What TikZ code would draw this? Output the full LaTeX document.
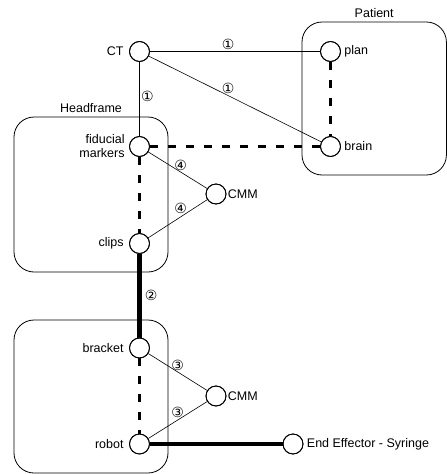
\documentclass[tikz,border=0pt]{standalone}
\usepackage{fontspec}
\setmainfont{Liberation Sans}
\newfontfamily\circfont{DejaVu Sans}
\usetikzlibrary{positioning}
\usetikzlibrary{fit}

\tikzset{
  pt/.style={draw, circle, fill=white, minimum size=20pt, inner sep=0pt, line width=0.8pt},
  grp/.style={draw, rounded corners=20pt, inner sep=0pt, line width=0.8pt},
  num/.style={font=\circfont\fontsize{14}{14}\selectfont, inner sep=1pt},
  reg/.style={line width=0.6pt},
  tie/.style={line width=2.5pt, dash pattern=on 8pt off 10pt},
  link/.style={line width=4.5pt},
}

\begin{document}
\begin{tikzpicture}[x=1pt, y=-1pt, font=\fontsize{12.5}{14}\selectfont]
        \useasboundingbox (0,0) rectangle (447,474);
        % groups %
        \node[grp, fit={(302,22) (446.4,175)}, label=above:Patient] (patient) {};
        \node[grp, fit={(14,117) (168,272)}, label=above:Headframe] (head) {};
        \node[grp, fit={(14,320) (168,473)}] (base) {};
        % nodes %
        \node[pt, label={[label distance=2pt]left:CT}] (ct) at (139.5,51.5) {};
        \node[pt, right=170.2pt of ct, label=right:plan] (plan) {};
        \node[pt, below=74.2pt of plan, label=right:brain] (brain) {};
        \node[pt, below=74.2pt of ct, label={[label distance=1pt, align=right]left:fiducial\\markers}] (fid) {};
        \node[pt, below=76.2pt of fid, label={[label distance=2pt]left:clips}] (clips) {};
        \node[pt, label={[label distance=-2pt]right:CMM}] (cmma) at (216,194) {};
        \node[pt, below=83.7pt of clips, label={[label distance=2pt]left:bracket}] (bracket) {};
        \node[pt, below=75.2pt of bracket, label={[label distance=2pt]left:robot}] (robot) {};
        \node[pt, label={[label distance=-2pt]right:CMM}] (cmmb) at (216,396) {};
        \node[pt, right=132.7pt of robot, label=right:End Effector - Syringe] (eff) {};
        % edges %
        \draw[line width=1pt] (ct) -- node[num, pos=0.46, above] {①} (plan);
        \draw[reg] (ct) -- node[num, pos=0.46, above=1pt] {①} (brain);
        \draw[line width=1pt] (ct) -- node[num, pos=0.47, right] {①} (fid);
        \draw[tie] (plan) -- (brain);
        \draw[tie] (fid) -- (brain);
        \draw[tie] (fid) -- (clips);
        \draw[reg] (fid) -- node[num, pos=0.55, above] {④} (cmma);
        \draw[reg] (cmma) -- node[num, pos=0.45, above=2pt] {④} (clips);
        \draw[link] (clips) -- node[num, midway, right=2pt] {②} (bracket);
        \draw[tie] (bracket) -- (robot);
        \draw[reg] (bracket) -- node[num, pos=0.5, above] {③} (cmmb);
        \draw[reg] (cmmb) -- node[num, pos=0.5, above=1pt] {③} (robot);
        \draw[link] (robot) -- (eff);
        % redraw circles over the thick ends %
        \foreach \n in {ct,plan,brain,fid,clips,cmma,bracket,robot,cmmb,eff}
          \draw[line width=0.8pt] (\n) circle (10pt);
      \end{tikzpicture}
\end{document}
